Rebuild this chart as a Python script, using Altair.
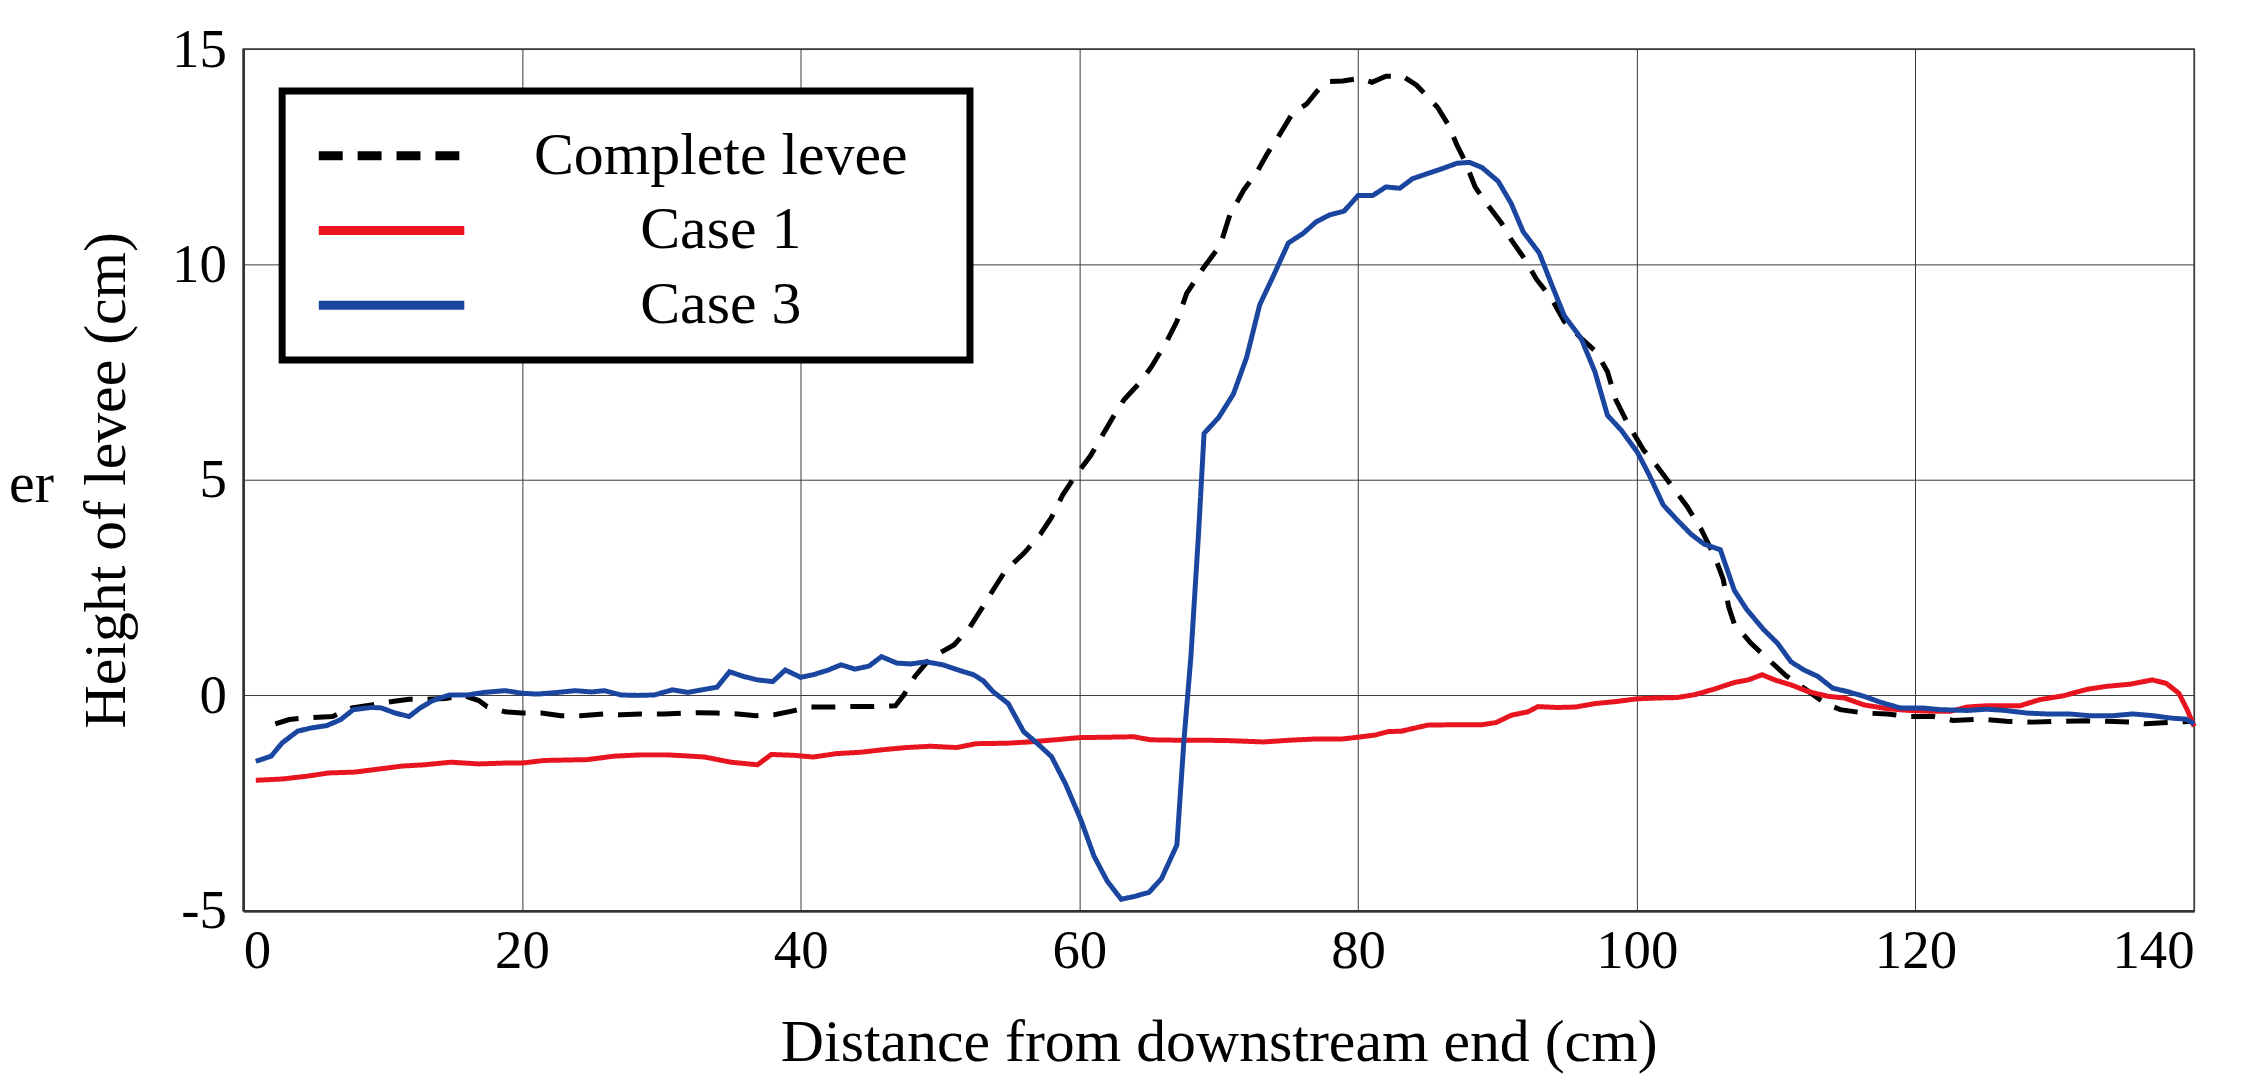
import altair as alt
import pandas as pd

# ---------------- data ----------------
x_ticks = [0, 20, 40, 60, 80, 100, 120, 140]
y_ticks = [-5, 0, 5, 10, 15]

series_names = ["Complete levee", "Case 1", "Case 3"]
series_colors = ["#000000", "#e8141f", "#1b46a0"]
series_dash = [[24, 15], [1, 0], [1, 0]]

complete_x = [2.3, 3.3, 4.5, 6.4, 7.8, 9.2, 10.7, 11.9, 13.0, 14.5, 15.9, 16.9, 17.5, 18.8, 20.0,
              21.4, 22.8, 24.2, 25.9, 27.1, 28.5, 30.2, 32.6, 34.0, 35.5, 36.8, 38.1, 39.3, 40.7,
              42.1, 43.6, 45.0, 46.8, 47.4, 48.2, 49.3, 51.0, 52.1, 53.0, 53.8, 54.7, 56.0, 57.2,
              58.0, 58.8, 59.6, 60.8, 61.5, 62.4, 63.2, 64.4, 65.2, 66.3, 67.0, 67.7, 68.9, 70.1,
              70.8, 71.8, 72.7, 73.5, 74.4, 75.3, 76.3, 77.0, 77.7, 78.9, 80.1, 81.0, 82.0, 83.2,
              84.2, 85.7, 86.5, 87.1, 87.7, 88.4, 89.1, 90.3, 91.0, 92.0, 92.8, 93.9, 94.8, 96.0,
              97.1, 97.9, 98.5, 99.4, 100.5, 101.5, 102.7, 103.6, 104.6, 105.6, 106.2, 106.6, 107.0,
              108.2, 109.4, 110.7, 112.0, 113.5, 114.6, 116.3, 118.0, 119.6, 121.3, 122.7, 124.6,
              126.5, 128.4, 130.3, 132.3, 133.7, 135.4, 136.5, 138.5, 140.0]
complete_y = [-0.66, -0.56, -0.52, -0.49, -0.29, -0.22, -0.14, -0.09, -0.09, -0.07, -0.01, -0.12, -0.26,
              -0.38, -0.41, -0.41, -0.47, -0.47, -0.43, -0.45, -0.43, -0.43, -0.40, -0.41, -0.43, -0.47,
              -0.45, -0.37, -0.27, -0.27, -0.26, -0.26, -0.24, 0.01, 0.44, 0.86, 1.17, 1.56, 2.02, 2.44,
              2.90, 3.29, 3.74, 4.13, 4.65, 5.04, 5.56, 5.95, 6.45, 6.86, 7.28, 7.64, 8.23, 8.68, 9.33,
              9.92, 10.44, 11.15, 11.73, 12.12, 12.58, 13.03, 13.51, 13.72, 14.00, 14.24, 14.26, 14.32,
              14.23, 14.37, 14.37, 14.16, 13.65, 13.23, 12.77, 12.38, 11.80, 11.47, 10.96, 10.57, 10.11,
              9.66, 9.20, 8.68, 8.29, 7.97, 7.51, 6.86, 6.28, 5.69, 5.30, 4.78, 4.39, 3.87, 3.22, 2.70,
              2.05, 1.66, 1.21, 0.85, 0.46, 0.17, -0.18, -0.33, -0.41, -0.43, -0.49, -0.49, -0.58, -0.55,
              -0.60, -0.62, -0.60, -0.59, -0.60, -0.62, -0.66, -0.62, -0.60]

case1_x = [0.9, 2.8, 4.7, 6.1, 8.0, 9.7, 11.4, 13.0, 14.9, 16.9, 18.8, 20.0, 21.6, 24.7, 26.6, 28.5,
           30.4, 31.6, 33.1, 35.0, 36.9, 37.9, 39.5, 40.9, 42.6, 44.3, 45.9, 47.6, 49.3, 51.2, 52.6,
           54.8, 56.4, 58.3, 60.0, 62.0, 63.9, 65.1, 67.0, 68.9, 70.8, 73.2, 75.1, 77.0, 78.9, 80.0,
           81.2, 82.2, 83.1, 85.0, 87.0, 88.9, 89.9, 91.0, 92.2, 92.9, 94.3, 95.6, 97.0, 98.6, 100.0,
           101.5, 102.9, 104.2, 105.6, 107.0, 108.0, 109.0, 109.9, 111.1, 112.3, 113.7, 114.9, 116.3,
           118.0, 119.6, 121.3, 122.5, 123.7, 125.1, 127.5, 128.9, 130.6, 132.3, 133.7, 135.4, 137.0,
           138.0, 138.9, 139.5, 140.0]
case1_y = [-1.97, -1.94, -1.87, -1.80, -1.78, -1.71, -1.64, -1.61, -1.55, -1.59, -1.57, -1.57, -1.51,
           -1.49, -1.41, -1.38, -1.38, -1.40, -1.43, -1.55, -1.61, -1.37, -1.39, -1.43, -1.35, -1.32,
           -1.26, -1.21, -1.18, -1.21, -1.12, -1.11, -1.08, -1.03, -0.98, -0.97, -0.96, -1.03, -1.04,
           -1.04, -1.05, -1.08, -1.04, -1.01, -1.01, -0.97, -0.92, -0.84, -0.83, -0.69, -0.68, -0.68,
           -0.63, -0.46, -0.38, -0.26, -0.28, -0.27, -0.19, -0.14, -0.08, -0.06, -0.05, 0.02, 0.15,
           0.30, 0.36, 0.48, 0.36, 0.24, 0.09, -0.02, -0.06, -0.22, -0.31, -0.35, -0.37, -0.37, -0.27,
           -0.24, -0.24, -0.10, -0.01, 0.14, 0.21, 0.26, 0.36, 0.28, 0.05, -0.33, -0.72]

case3_x = [0.9, 2.0, 2.8, 3.9, 4.8, 6.0, 7.0, 7.9, 9.2, 9.9, 10.9, 11.9, 12.7, 13.6, 14.8, 16.1, 17.3,
           18.8, 20.0, 21.1, 22.6, 23.8, 25.0, 25.9, 27.1, 28.3, 29.5, 30.8, 31.9, 33.1, 34.0, 34.9,
           35.9, 36.9, 38.0, 38.9, 40.0, 40.9, 41.9, 42.9, 43.9, 44.9, 45.8, 46.9, 47.9, 49.0, 50.2,
           51.4, 52.4, 53.1, 53.8, 54.9, 56.0, 57.0, 58.0, 59.0, 60.1, 61.05, 62.0, 63.0, 63.9, 65.0,
           65.9, 67.0, 67.5, 68.0, 68.55, 68.95, 70.0, 71.05, 72.0, 72.95, 73.9, 75.0, 76.05, 77.0,
           77.95, 79.0, 80.0, 81.05, 82.0, 83.0, 83.9, 84.8, 86.0, 87.1, 88.0, 88.9, 90.06, 91.0,
           91.85, 93.0, 93.9, 94.8, 96.0, 97.0, 97.9, 98.9, 100.07, 100.9, 101.9, 102.9, 103.9,
           104.84, 106.0, 107.0, 107.9, 109.1, 110.1, 111.07, 112.0, 113.0, 114.05, 115.1, 116.3,
           117.5, 118.9, 120.4, 121.8, 123.7, 125.1, 126.5, 128.0, 129.4, 131.0, 132.5, 134.2, 135.6,
           137.0, 138.45, 139.4, 140.0]
case3_y = [-1.53, -1.41, -1.10, -0.83, -0.76, -0.70, -0.56, -0.33, -0.28, -0.29, -0.41, -0.49, -0.29,
           -0.12, 0.01, 0.01, 0.07, 0.11, 0.05, 0.03, 0.07, 0.11, 0.08, 0.11, 0.01, 0.00, 0.01, 0.13,
           0.07, 0.14, 0.19, 0.55, 0.44, 0.36, 0.32, 0.59, 0.42, 0.48, 0.58, 0.71, 0.61, 0.68, 0.90,
           0.75, 0.73, 0.78, 0.71, 0.58, 0.48, 0.34, 0.09, -0.19, -0.84, -1.12, -1.42, -2.05, -2.88,
           -3.73, -4.31, -4.73, -4.67, -4.57, -4.25, -3.47, -1.07, 0.88, 3.74, 6.08, 6.45, 6.99, 7.84,
           9.07, 9.72, 10.50, 10.72, 10.99, 11.15, 11.24, 11.60, 11.60, 11.80, 11.77, 11.99, 12.09,
           12.22, 12.35, 12.37, 12.25, 11.93, 11.41, 10.76, 10.27, 9.53, 8.81, 8.29, 7.51, 6.50, 6.15,
           5.63, 5.11, 4.42, 4.07, 3.74, 3.51, 3.38, 2.44, 1.99, 1.53, 1.21, 0.78, 0.59, 0.44, 0.17,
           0.09, -0.02, -0.16, -0.29, -0.29, -0.33, -0.35, -0.32, -0.35, -0.41, -0.43, -0.43, -0.47,
           -0.47, -0.43, -0.47, -0.53, -0.55, -0.66]

fragment_text = ["er"]

# ---------------- table built from the arrays ----------------
rows = []
for name, xs, ys in [(series_names[0], complete_x, complete_y),
                     (series_names[1], case1_x, case1_y),
                     (series_names[2], case3_x, case3_y)]:
    for i, (xv, yv) in enumerate(zip(xs, ys)):
        rows.append({"x": xv, "y": yv, "series": name, "idx": i})
df = pd.DataFrame(rows)

FONT = "Liberation Serif"

# Legend symbol: a long horizontal stroke (8 units, scaled by sqrt(size)/2); the
# trailing move-to draws nothing but widens the legend box to the right.
# A tiny blank title on top gives a little room above the first entry.
legend = alt.Legend(
    orient="none", legendX=39, legendY=42,
    title=" ", titleOrient="top", titlePadding=6, titleFontSize=4,
    symbolType="M-1,0H7M32.4,0", symbolSize=1332, symbolStrokeWidth=9,
    labelFont=FONT, labelFontSize=60, labelColor="black",
    labelAlign="center", labelOffset=355, labelLimit=900,
    rowPadding=15, padding=25,
    fillColor="white", strokeColor="black",
)

lines = alt.Chart(df).mark_line(strokeWidth=5).encode(
    x=alt.X("x:Q",
            scale=alt.Scale(domain=[0, 140], nice=False, zero=False),
            axis=alt.Axis(values=x_ticks, title="Distance from downstream end (cm)",
                          labelPadding=14, titleY=150, titleBaseline="alphabetic")),
    y=alt.Y("y:Q",
            scale=alt.Scale(domain=[-5, 15], nice=False, zero=False),
            axis=alt.Axis(values=y_ticks, title="Height of levee (cm)",
                          labelPadding=17, labelExpr="'' + datum.value",
                          titleX=-119, titleY=432, titleBaseline="alphabetic",
                          titleAlign="center")),
    color=alt.Color("series:N", scale=alt.Scale(domain=series_names, range=series_colors),
                    legend=legend),
    strokeDash=alt.StrokeDash("series:N", scale=alt.Scale(domain=series_names, range=series_dash),
                              legend=legend),
    order="idx:Q",
)

frag = alt.Chart(pd.DataFrame({"t": fragment_text})).mark_text(
    font=FONT, fontSize=58, align="left", baseline="alphabetic", color="black"
).encode(text="t:N", x=alt.value(-235), y=alt.value(454))

chart = alt.layer(lines, frag).properties(
    width=1957, height=864.5,
    padding={"left": 236, "top": 39.5, "right": 44, "bottom": 170},
    autosize=alt.AutoSizeParams(type="none"),
    background="white",
).configure_view(
    stroke="#333333", strokeWidth=1.5
).configure_axis(
    grid=True, gridColor="#3a3a3a", gridWidth=1, gridOpacity=1,
    ticks=False, tickSize=0,
    domain=True, domainColor="#333333", domainWidth=2.5,
    labelFont=FONT, labelFontSize=55, labelColor="black",
    titleFont=FONT, titleFontSize=60, titleFontWeight="normal", titleColor="black",
).configure_legend(
    strokeWidth=7
)

chart.save("out.html", embed_options={"renderer": "svg", "actions": False})
